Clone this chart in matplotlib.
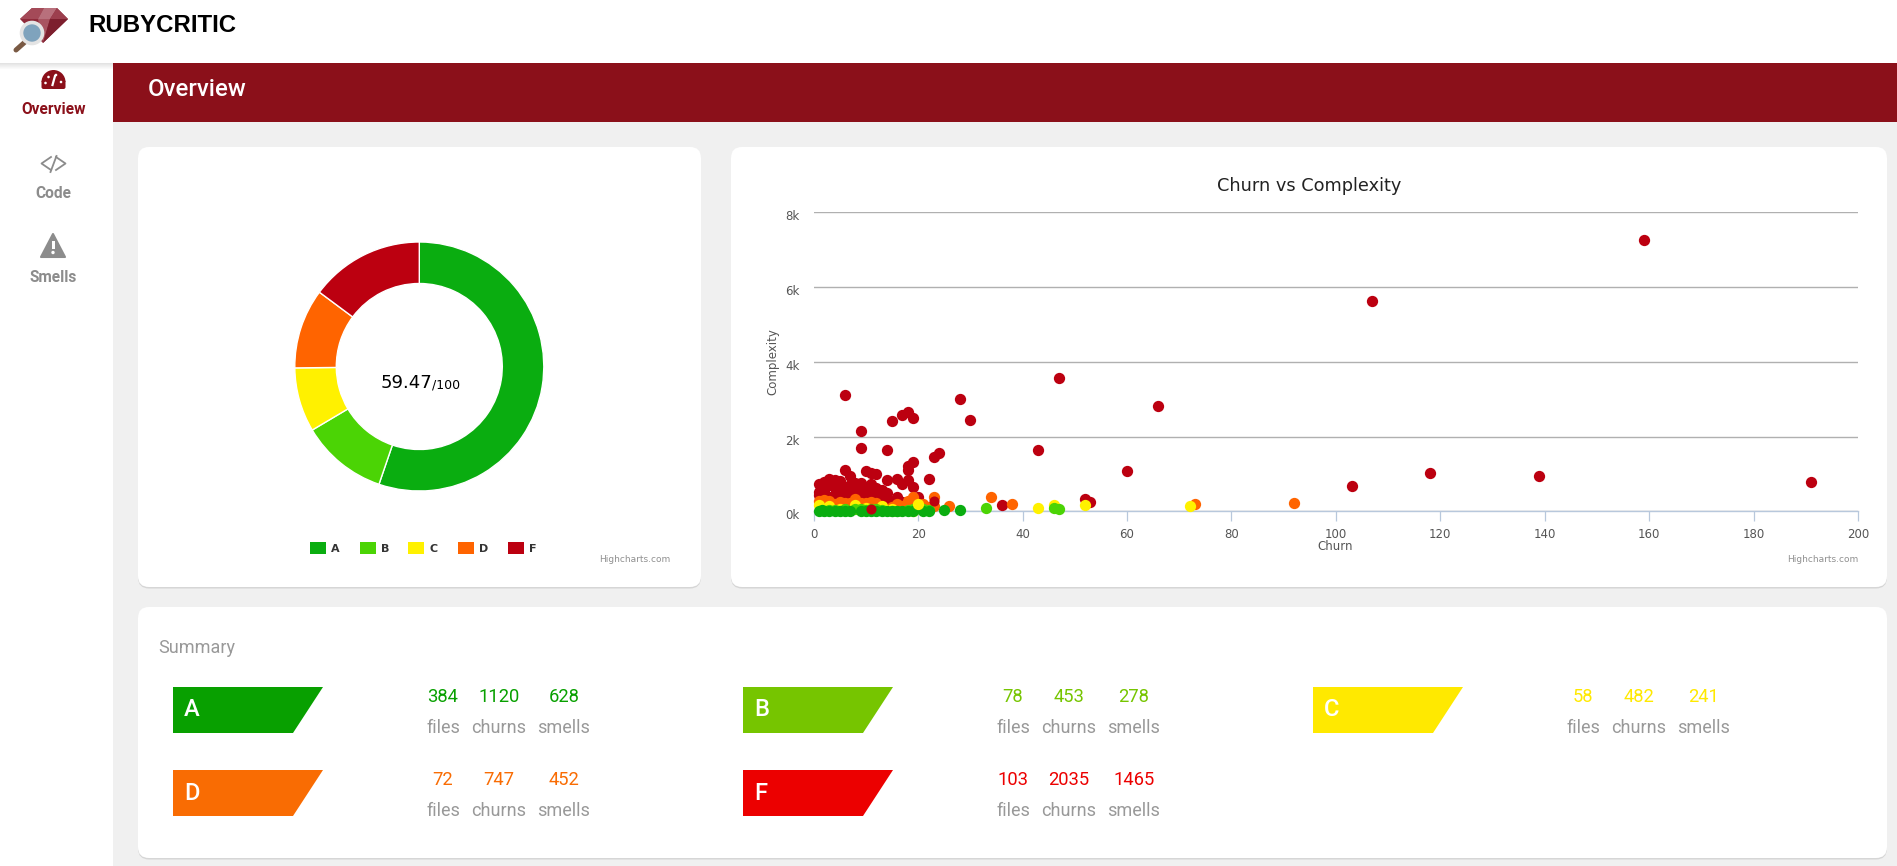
import matplotlib
matplotlib.use("Agg")
import matplotlib.pyplot as plt
from matplotlib.patches import FancyBboxPatch, Polygon, Circle, Rectangle, Wedge
from matplotlib.transforms import ScaledTranslation

# ==============================
# DATA
# ==============================

grades = ["A", "B", "C", "D", "F"]
files = [384, 78, 58, 72, 103]
churns = [1120, 453, 482, 747, 2035]
smells = [628, 278, 241, 452, 1465]

score = "59.47"
score_max = "/100"

f_churn = [6, 9, 9, 14, 15, 17, 18, 19, 28, 30, 43, 47, 66, 60, 23, 24, 19, 18, 18, 22,
           6, 7, 10, 11, 12, 14, 16, 17, 18, 19, 1, 3, 4, 5, 2, 8, 9, 11, 14, 14,
           16, 20, 36, 52, 53, 107, 159, 103, 118, 139, 191,
           1, 2, 3, 4, 5, 6, 7, 8, 9, 10, 11, 12, 12, 13, 7, 8, 9, 10, 11, 6, 5, 4,
           16, 17, 20, 4, 11,
           2, 3, 5, 6, 7, 8, 9, 10, 11, 12, 13, 1]
f_complexity = [3104, 2154, 1692, 1647, 2416, 2580, 2670, 2490, 3014, 2434, 1647, 3557, 2815,
                1077, 1457, 1557, 1330, 1222, 1095, 860,
                1113, 932, 1068, 1022, 995, 842, 860, 733, 842, 642, 733, 860, 842, 823, 525,
                751, 770, 660, 498, 299,
                371, 389, 163, 326, 253, 5618, 7258, 669, 1035, 945, 794,
                430, 480, 390, 430, 470, 500, 530, 560, 520, 480, 500, 540, 420, 400, 400, 430,
                450, 590, 440, 420, 380, 615,
                300, 250, 300, 118, 118,
                780, 700, 700, 650, 700, 640, 650, 620, 720, 620, 560, 520]

d_churn = [34, 38, 26, 23, 23, 3, 5, 8, 7, 10, 12, 16, 16, 17, 18, 19, 92, 73, 1, 2, 4, 6, 9, 11, 15, 17, 19,
           22, 21, 16, 18]
d_complexity = [371, 199, 136, 371, 154, 280, 253, 317, 226, 226, 226, 190, 72, 72, 280, 389, 223, 190,
                280, 300, 200, 230, 210, 240, 110, 130, 330,
                120, 200, 130, 130]

c_churn = [43, 46, 52, 72, 1, 3, 8, 13, 19, 5, 10, 15, 21]
c_complexity = [81, 181, 181, 140, 160, 130, 175, 130, 20, 60, 100, 70, 40]

b_churn = [33, 46, 47, 21, 19, 8, 9, 11, 4, 6, 10, 13, 15, 18, 20, 22, 16, 3, 12]
b_complexity = [100, 100, 72, 72, 72, 60, 60, 70, 40, 50, 40, 30, 20, 40, 100, 30, 15, 30, 60]

a_churn = [1, 1.5, 2, 4, 5, 6, 10, 12, 13, 15, 16, 17, 18, 22, 21, 25, 28, 19, 9, 3, 7, 11, 14]
a_complexity = [20, 25, 20, 20, 20, 20, 20, 20, 20, 15, 15, 15, 15, 15, 10, 27, 27, 10, 15, 15, 10, 10, 10]

# a few points sit above the others in the reference
top_yellow_churn = [20]
top_yellow_complexity = [190]
top_red_churn = [23, 11]
top_red_complexity = [280, 70]

x_ticks = [0, 20, 40, 60, 80, 100, 120, 140, 160, 180, 200]
y_ticks = [0, 2000, 4000, 6000, 8000]
y_tick_labels = ["0k", "2k", "4k", "6k", "8k"]

# ==============================
# COLOURS
# ==============================

chart_colors = {"A": "#0aad10", "B": "#4bd405", "C": "#fff100", "D": "#ff6400", "F": "#bc0010"}
badge_colors = {"A": "#08a000", "B": "#76c500", "C": "#ffe900", "D": "#f96c03", "F": "#ec0000"}
dark_red = "#8b101a"
grey = "#999999"
side_grey = "#8c8c8c"

# ==============================
# PAGE
# ==============================

W, H = 1897, 866
fig = plt.figure(figsize=(W / 100, H / 100), dpi=100, facecolor="#f0f0f0")

page = fig.add_axes([0, 0, 1, 1])
page.set_xlim(0, W)
page.set_ylim(H, 0)
page.axis("off")


def card(x0, y0, x1, y1):
    page.add_patch(FancyBboxPatch((x0, y0 + 1.5), x1 - x0, y1 - y0, boxstyle="round,pad=0,rounding_size=11",
                                  fc="#d6d6d6", ec="none", zorder=1))
    page.add_patch(FancyBboxPatch((x0, y0), x1 - x0, y1 - y0, boxstyle="round,pad=0,rounding_size=11",
                                  fc="white", ec="none", zorder=2))


# sidebar, top bar and header strip
page.add_patch(Rectangle((0, 63), 113, H - 63, fc="white", ec="none", zorder=1))
page.add_patch(Rectangle((113, 63), W - 113, 59, fc=dark_red, ec="none", zorder=1))
for i in range(6):
    page.add_patch(Rectangle((0, 63 + i), 113, 1, fc="#000000", alpha=0.018 * (6 - i), ec="none", zorder=2))
page.add_patch(Rectangle((0, 0), W, 63, fc="white", ec="none", zorder=3))

card(138, 147, 701, 587)
card(731, 147, 1887, 587)
card(138, 607, 1887, 858)

roboto = "Roboto"

page.text(88, 25.5, "RUBYCRITIC", family="Liberation Sans", weight="bold", fontsize=17.3,
          color="black", va="center", ha="left", zorder=5)
page.text(148, 90, "Overview", family=roboto, weight="medium", fontsize=17.3, color="white",
          va="center", ha="left", zorder=5)

# ==============================
# LOGO
# ==============================

page.add_patch(Polygon([(20, 19), (32, 8), (57, 8), (68, 19), (43, 43), (20, 19)], fc="#8f2a3a", ec="none", zorder=5))
page.add_patch(Polygon([(32, 8), (44, 8), (38, 19), (20, 19)], fc="#a44a58", ec="none", zorder=6))
page.add_patch(Polygon([(44, 8), (57, 8), (50, 19), (38, 19)], fc="#b8707c", ec="none", zorder=6))
page.add_patch(Polygon([(57, 8), (68, 19), (50, 19)], fc="#9c3f4e", ec="none", zorder=6))
page.add_patch(Polygon([(38, 19), (50, 19), (43, 43)], fc="#a85461", ec="none", zorder=6))
page.add_patch(Polygon([(50, 19), (68, 19), (43, 43)], fc="#7d1f2e", ec="none", zorder=6))
page.plot([16, 25], [50, 42], color="#7a5a44", lw=3.6, solid_capstyle="round", zorder=6)
page.add_patch(Circle((32, 33), 10.5, fc="#7fa3bd", ec="#e4e4e4", lw=2.6, zorder=7))

# ==============================
# SIDEBAR ICONS
# ==============================

page.add_patch(Wedge((53.5, 82), 12, 180, 360, fc=dark_red, ec="none", zorder=5))
page.add_patch(FancyBboxPatch((41.5, 80), 24, 9, boxstyle="round,pad=0,rounding_size=2",
                              fc=dark_red, ec="none", zorder=5))
for dx, dy in [(-8, 1), (-5, -5), (2.5, -7), (7.5, 0)]:
    page.add_patch(Circle((53.5 + dx, 82 + dy), 1.3, fc="white", ec="none", zorder=6))
page.plot([52.5, 55], [85, 76], color="white", lw=1.6, zorder=6)

page.text(53.5, 110, "Overview", family=roboto, weight="bold", fontsize=11.2, color=dark_red,
          ha="center", va="center", zorder=5)

page.plot([51, 41.5, 51], [157, 163.5, 170], color=side_grey, lw=1.3, zorder=5)
page.plot([56, 65.5, 56], [157, 163.5, 170], color=side_grey, lw=1.3, zorder=5)
page.plot([56.5, 50.5], [156, 172], color=side_grey, lw=1.3, zorder=5)
page.text(53, 194, "Code", family=roboto, weight="bold", fontsize=11.2, color=side_grey,
          ha="center", va="center", zorder=5)

page.add_patch(Polygon([(53, 234), (65, 257), (41, 257)], closed=True, fc=side_grey, ec=side_grey, lw=1.5,
                       joinstyle="round", zorder=5))
page.add_patch(Rectangle((51.5, 241), 3, 8, fc="white", ec="none", zorder=6))
page.add_patch(Circle((53, 252.5), 1.7, fc="white", ec="none", zorder=6))
page.text(53, 278, "Smells", family=roboto, weight="bold", fontsize=11.2, color=side_grey,
          ha="center", va="center", zorder=5)

# ==============================
# DONUT
# ==============================

cx, cy, radius = 419.3, 366.5, 124.5
donut = fig.add_axes([(cx - radius) / W, 1 - (cy + radius) / H, 2 * radius / W, 2 * radius / H])
donut.pie(files, colors=[chart_colors[g] for g in grades], startangle=90, counterclock=False, radius=1,
          wedgeprops={"width": 1 / 3, "edgecolor": "white", "linewidth": 1})
donut.set_xlim(-1, 1)
donut.set_ylim(-1, 1)

page.text(381, 388, score, family="DejaVu Sans", fontsize=13, color="black", ha="left", va="baseline", zorder=5)
page.text(432, 388, score_max, family="DejaVu Sans", fontsize=9, color="black", ha="left", va="baseline", zorder=5)

legend_x = [310, 360, 408, 458, 508]
for g, lx in zip(grades, legend_x):
    page.add_patch(Rectangle((lx, 542), 16, 12, fc=chart_colors[g], ec="none", zorder=5))
    page.text(lx + 21, 548.5, g, family="DejaVu Sans", weight="bold", fontsize=8, color="#333333",
              ha="left", va="center", zorder=5)

page.text(670, 559, "Highcharts.com", family="DejaVu Sans", fontsize=6.5, color="#909090",
          ha="right", va="center", zorder=5)

# ==============================
# SCATTER
# ==============================

ax_x0, ax_x1, ax_y0, ax_y1 = 813.7, 1858, 212.3, 511.3
ax = fig.add_axes([ax_x0 / W, 1 - ax_y1 / H, (ax_x1 - ax_x0) / W, (ax_y1 - ax_y0) / H])
ax.patch.set_alpha(0)
ax.set_xlim(0, 200)
ax.set_ylim(0, 8000)

size = 66
ax.scatter(f_churn, f_complexity, s=size, color=chart_colors["F"], linewidths=0, clip_on=False, zorder=3)
ax.scatter(d_churn, d_complexity, s=size, color=chart_colors["D"], linewidths=0, clip_on=False, zorder=4)
ax.scatter(c_churn, c_complexity, s=size, color=chart_colors["C"], linewidths=0, clip_on=False, zorder=5)
ax.scatter(b_churn, b_complexity, s=size, color=chart_colors["B"], linewidths=0, clip_on=False, zorder=6)
ax.scatter(a_churn, a_complexity, s=size, color=chart_colors["A"], linewidths=0, clip_on=False, zorder=7)
ax.scatter(top_yellow_churn, top_yellow_complexity, s=size, color=chart_colors["C"], linewidths=0,
           clip_on=False, zorder=8)
ax.scatter(top_red_churn, top_red_complexity, s=size * 0.8, color=chart_colors["F"], linewidths=0,
           clip_on=False, zorder=8)

ax.set_xticks(x_ticks)
ax.set_yticks(y_ticks)
ax.set_yticklabels(y_tick_labels)
ax.grid(axis="y", color="#b0b0b0", linewidth=1.0)
ax.set_axisbelow(True)
ax.tick_params(axis="y", length=0, pad=10, labelsize=8.5, labelcolor="#555555")
ax.tick_params(axis="x", length=7, width=0.9, color="#b8c8dc", pad=5, labelsize=8.5, labelcolor="#555555")
for side in ["top", "right", "left"]:
    ax.spines[side].set_visible(False)
ax.spines["bottom"].set_color("#b8c8dc")
ax.spines["bottom"].set_linewidth(1.0)
for label in ax.get_yticklabels():
    label.set_transform(label.get_transform() + ScaledTranslation(0, -3 / 100, fig.dpi_scale_trans))

page.text(1309, 186, "Churn vs Complexity", family="DejaVu Sans", fontsize=12.8, color="#222222",
          ha="center", va="center", zorder=5)
page.text(1335.5, 546, "Churn", family="DejaVu Sans", fontsize=8.5, color="#555555", ha="center", va="center", zorder=5)
page.text(773, 362, "Complexity", family="DejaVu Sans", fontsize=8.5, color="#555555", ha="center", va="center",
          rotation=90, zorder=5)
page.text(1858, 559, "Highcharts.com", family="DejaVu Sans", fontsize=6.5, color="#909090",
          ha="right", va="center", zorder=5)

# ==============================
# SUMMARY
# ==============================

page.text(158, 648, "Summary", family=roboto, fontsize=13, color=grey, ha="left", va="center", zorder=5)

badge_x = {"A": 173, "B": 743, "C": 1313, "D": 173, "F": 743}
badge_y = {"A": 687, "B": 687, "C": 687, "D": 770, "F": 770}
column_dx = [270, 325.7, 390.7]

for g, n_files, n_churns, n_smells in zip(grades, files, churns, smells):
    bx, by = badge_x[g], badge_y[g]
    page.add_patch(Polygon([(bx, by), (bx + 150, by), (bx + 120, by + 46), (bx, by + 46)],
                           fc=badge_colors[g], ec="none", zorder=5))
    page.text(bx + 11, by + 23, g, family=roboto, weight="medium", fontsize=17, color="white",
              ha="left", va="center", zorder=6)
    for dx, value, name in zip(column_dx, [n_files, n_churns, n_smells], ["files", "churns", "smells"]):
        page.text(bx + dx, by + 10, str(value), family=roboto, fontsize=13.2, color=badge_colors[g],
                  ha="center", va="center", zorder=6)
        page.text(bx + dx, by + 41, name, family=roboto, fontsize=13, color=grey,
                  ha="center", va="center", zorder=6)

fig.savefig("out.png", dpi=100, facecolor=fig.get_facecolor())
plt.close(fig)
